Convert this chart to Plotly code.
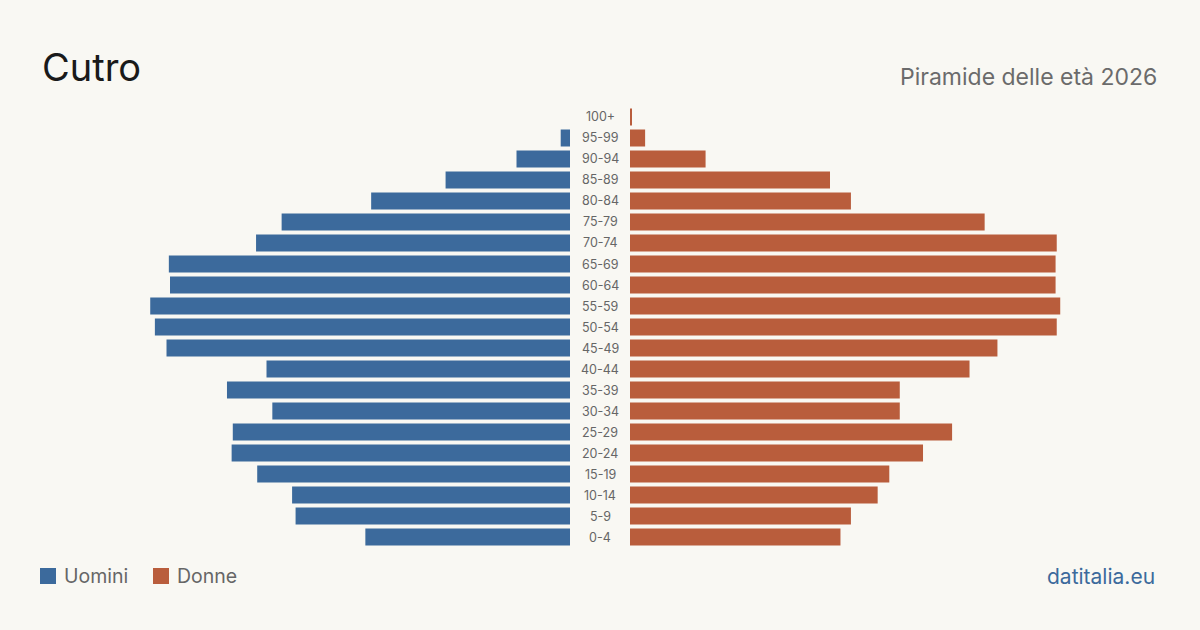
import plotly.graph_objects as go

ages = ["0-4", "5-9", "10-14", "15-19", "20-24", "25-29", "30-34", "35-39", "40-44",
        "45-49", "50-54", "55-59", "60-64", "65-69", "70-74", "75-79", "80-84",
        "85-89", "90-94", "95-99", "100+"]
uomini = [176, 236, 239, 269, 291, 290, 256, 295, 261, 347, 357, 361, 344, 345,
          270, 248, 171, 107, 46, 8, 0]
donne = [181, 190, 213, 223, 252, 277, 232, 232, 292, 316, 367, 370, 366, 366,
         367, 305, 190, 172, 65, 13, 1]

title = "Cutro"
subtitle = "Piramide delle età 2026"
source = "datitalia.eu"

BLUE = "#3c6a9c"
ORANGE = "#b95d3c"
BG = "#f9f8f3"
FONT = "Inter, 'Noto Sans', sans-serif"

R = 430
W = 500 / 1200
fig = go.Figure()
fig.add_trace(go.Bar(y=ages, x=uomini, orientation="h", marker=dict(color=BLUE, line=dict(width=0)),
                     xaxis="x", yaxis="y", name="Uomini", showlegend=False))
fig.add_trace(go.Bar(y=ages, x=donne, orientation="h", marker=dict(color=ORANGE, line=dict(width=0)),
                     xaxis="x2", yaxis="y", name="Donne", showlegend=False))

ytop = (630 - 106.5) / 630
ybot = (630 - 547.5) / 630

annotations = []
for a in ages:
    annotations.append(dict(x=0.5, xref="paper", y=a, yref="y", text=a, showarrow=False,
                            font=dict(family=FONT, size=12.5, color="#666666"), xanchor="center", yanchor="middle"))
annotations += [
    dict(x=40 / 1200, y=(630 - 67) / 630, xref="paper", yref="paper", text=title, showarrow=False,
         xanchor="left", yanchor="middle", font=dict(family=FONT, size=38, color="#1a1a1a")),
    dict(x=1159 / 1200, y=(630 - 77) / 630, xref="paper", yref="paper", text=subtitle, showarrow=False,
         xanchor="right", yanchor="middle", font=dict(family=FONT, size=23, color="#6b6b6b")),
    dict(x=62 / 1200, y=(630 - 576) / 630, xref="paper", yref="paper", text="Uomini", showarrow=False,
         xanchor="left", yanchor="middle", font=dict(family=FONT, size=19.5, color="#666666")),
    dict(x=175 / 1200, y=(630 - 576) / 630, xref="paper", yref="paper", text="Donne", showarrow=False,
         xanchor="left", yanchor="middle", font=dict(family=FONT, size=19.5, color="#666666")),
    dict(x=1157 / 1200, y=(630 - 576) / 630, xref="paper", yref="paper", text=source, showarrow=False,
         xanchor="right", yanchor="middle", font=dict(family=FONT, size=21, color="#3c6a9c")),
]

shapes = [
    dict(type="rect", xref="paper", yref="paper", x0=40 / 1200, x1=56 / 1200,
         y0=(630 - 584) / 630, y1=(630 - 568) / 630, fillcolor=BLUE, line=dict(width=0)),
    dict(type="rect", xref="paper", yref="paper", x0=153 / 1200, x1=169 / 1200,
         y0=(630 - 584) / 630, y1=(630 - 568) / 630, fillcolor=ORANGE, line=dict(width=0)),
]

fig.update_layout(
    width=1200, height=630,
    margin=dict(l=0, r=0, t=0, b=0),
    paper_bgcolor=BG, plot_bgcolor=BG,
    bargap=0.19,
    xaxis=dict(domain=[570 / 1200 - W, 570 / 1200], range=[R, 0], visible=False, fixedrange=True),
    xaxis2=dict(domain=[630 / 1200, 630 / 1200 + W], range=[0, R], visible=False, fixedrange=True),
    yaxis=dict(domain=[ybot, ytop], range=[-0.5, 20.5], visible=False, type="category",
               categoryorder="array", categoryarray=ages, fixedrange=True),
    annotations=annotations,
    shapes=shapes,
    showlegend=False,
)

fig.write_html("out.html", config={"displayModeBar": False})
